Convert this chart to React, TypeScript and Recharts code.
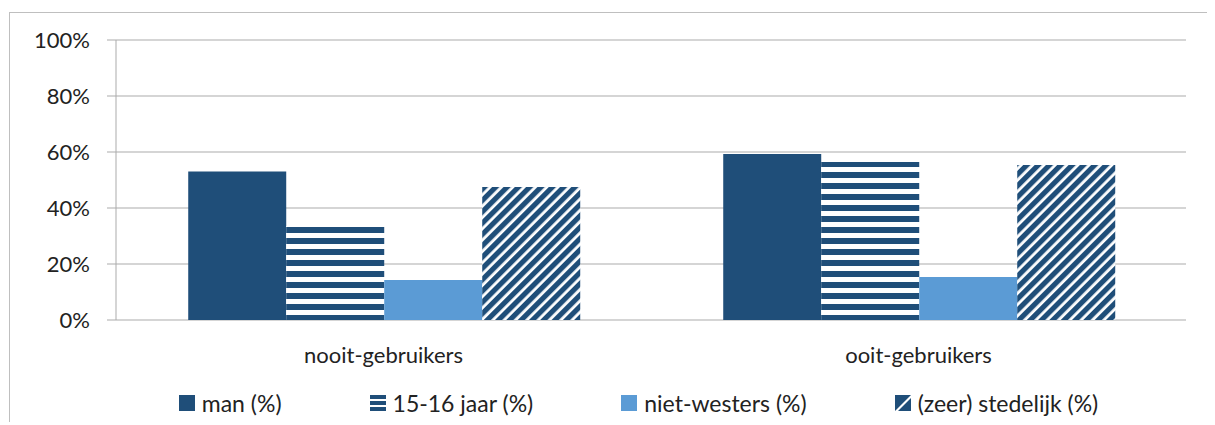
import { BarChart, Bar, XAxis, YAxis, CartesianGrid } from 'recharts';

// categorieën en waarden (in %)
const groups = ['nooit-gebruikers', 'ooit-gebruikers'];
const man = [53, 59.3];
const age1516 = [33.6, 56.4];
const nonWestern = [14.3, 15.4];
const urban = [47.5, 55.4];

const yTicks = [0, 20, 40, 60, 80, 100];
const edgeTicks = [0, 1, 2];

const seriesNames = ['man (%)', '15-16 jaar (%)', 'niet-westers (%)', '(zeer) stedelijk (%)'];

const chartData = groups.map((group, i) => ({
  group,
  man: man[i],
  age: age1516[i],
  nonWestern: nonWestern[i],
  urban: urban[i],
}));

const DARK = '#1F4E79';
const LIGHT = '#5B9BD5';
const GRID = '#ababab';
const TEXT = '#222222';
const FONT = 'Lato, "Open Sans", sans-serif';

const Patterns = () => (
  <defs>
    <pattern id="hstripes" width="11" height="11" patternUnits="userSpaceOnUse" y="5">
      <rect width="11" height="11" fill="#fff" />
      <rect width="11" height="6" fill={DARK} />
    </pattern>
    <pattern id="diag" width="8" height="8" patternUnits="userSpaceOnUse" patternTransform="rotate(45)">
      <rect width="8" height="8" fill="#fff" />
      <rect width="5.2" height="8" fill={DARK} />
    </pattern>
  </defs>
);

const legendIcons = [
  <rect key="a" width="16" height="16" fill={DARK} />,
  <g key="b">
    <rect width="16" height="16" fill="#fff" />
    <rect y="0" width="16" height="4" fill={DARK} />
    <rect y="6" width="16" height="4" fill={DARK} />
    <rect y="12" width="16" height="4" fill={DARK} />
  </g>,
  <rect key="c" width="16" height="16" fill={LIGHT} />,
  <g key="d">
    <rect width="16" height="16" fill={DARK} />
    <polygon points="16,0 16,3 3,16 0,16" fill="#fff" />
  </g>,
];

export default function App() {
  return (
    <div style={{ position: 'relative', top: 4, left: 1, width: 1206, height: 413, borderTop: '1px solid #bfbfbf', borderLeft: '1px solid #bfbfbf', fontFamily: FONT }}>
      <style>{'html,body{overflow:hidden}'}</style>

      <BarChart
        width={1205}
        height={375}
        data={chartData}
        margin={{ top: 27, right: 29, left: 0, bottom: 0 }}
        barCategoryGap="13.5%"
        barGap={0}
      >
        <Patterns />
        <CartesianGrid vertical={false} stroke={GRID} />
        <XAxis
          xAxisId="edge"
          type="number"
          domain={[0, 2]}
          ticks={edgeTicks}
          height={0}
          stroke={GRID}
          tickSize={8}
          tickFormatter={() => ''}
        />
        <XAxis
          xAxisId="cat"
          dataKey="group"
          height={68}
          axisLine={false}
          tickLine={false}
          tickSize={0}
          tickMargin={27}
          tick={{ fontSize: 22, fill: TEXT, fontFamily: FONT }}
        />
        <YAxis
          width={106}
          domain={[0, 100]}
          ticks={yTicks}
          tickFormatter={(v) => `${v}%`}
          stroke={GRID}
          tickSize={9}
          tickMargin={17}
          tick={{ fontSize: 22, fill: TEXT, fontFamily: FONT }}
        />
        <Bar xAxisId="cat" dataKey="man" fill={DARK} isAnimationActive={false} />
        <Bar xAxisId="cat" dataKey="age" fill="url(#hstripes)" isAnimationActive={false} />
        <Bar xAxisId="cat" dataKey="nonWestern" fill={LIGHT} isAnimationActive={false} />
        <Bar xAxisId="cat" dataKey="urban" fill="url(#diag)" isAnimationActive={false} />
      </BarChart>

      <div style={{ position: 'absolute', top: 376, left: 26, width: 1205, display: 'flex', justifyContent: 'center', gap: 88, alignItems: 'center', fontSize: 23, color: TEXT }}>
        {seriesNames.map((name, i) => (
          <div key={name} style={{ display: 'flex', alignItems: 'center' }}>
            <svg width="16" height="16" style={{ marginRight: 7 }}>{legendIcons[i]}</svg>
            <span>{name}</span>
          </div>
        ))}
      </div>
    </div>
  );
}
